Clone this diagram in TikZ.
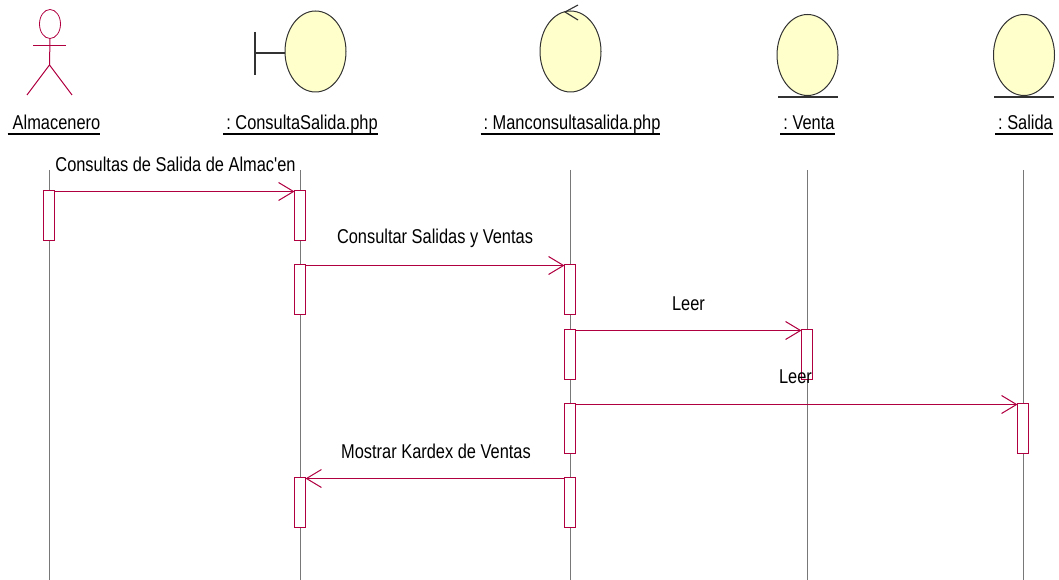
\documentclass[tikz,border=0pt]{standalone}
\usepackage{fontspec}
\setmainfont[FakeStretch=0.82,Ligatures=TeXOff]{Liberation Sans}
\usetikzlibrary{arrows.meta,shapes.geometric}
\definecolor{umlred}{RGB}{176,0,64}
\definecolor{umlfill}{RGB}{255,255,203}
\definecolor{umlline}{RGB}{120,120,120}
\definecolor{umldark}{RGB}{50,50,50}
\newcommand{\headtext}[2]{\kern#1pt\spaceskip=3pt\relax #2}
\tikzset{
  x=1pt,y=-1pt,
  lifeline/.style={draw=umlline,line width=1pt},
  activation/.style={draw=umlred,fill=white,line width=1pt,minimum width=11pt,minimum height=50pt,inner sep=0pt,outer sep=0pt},
  objhead/.style={ellipse,draw=umldark,fill=umlfill,line width=1pt,minimum width=61pt,minimum height=81pt,inner sep=0pt,outer sep=0pt},
  objmark/.style={draw=umldark,line width=1.1pt},
  actorline/.style={draw=umlred,line width=1pt},
  msg/.style={draw=umlred,line width=1pt,-{Straight Barb[length=15pt,width=18pt,line width=1pt]}},
  headlabel/.style={inner sep=0pt,outer sep=0pt,font=\fontsize{20}{22}\selectfont,text height=14pt,text depth=4pt,anchor=center},
  headrule/.style={draw=black,line width=1.1pt},
  msglabel/.style={inner sep=0pt,font=\fontsize{20}{22}\selectfont,anchor=center,text=black},
}
\begin{document}
\begin{tikzpicture}
\useasboundingbox (0,0) rectangle (1059,580);
% lifeline ends
\foreach \n/\x in {a/49.5,b/300.5,c/570.5,d/807.5,e/1023.5}{
  \coordinate (\n top) at (\x,170);
  \coordinate (\n bot) at (\x,580);
  \draw[lifeline] (\n top) -- (\n bot);
}
% actor
\node[ellipse,draw=umlred,line width=0.8pt,fill=white,minimum width=21pt,minimum height=29pt,inner sep=0pt,outer sep=0pt] (head) at (50,24) {};
\coordinate (armL) at (33,45.5);
\coordinate (armR) at (66,45.5);
\coordinate (hip) at (49.5,65);
\coordinate (legL) at (27,95);
\coordinate (legR) at (72,95);
\draw[actorline] (head.south) -- (hip);
\draw[actorline] (armL) -- (armR);
\draw[actorline] (legL) -- (hip) -- (legR);
% boundary
\node[objhead] (bh) at (315.5,51.5) {};
\coordinate (bbarT) at (255,32);
\coordinate (bbarB) at (255,75);
\draw[objmark] (bbarT) -- (bbarB);
\draw[objmark] (255,53) -- (bh.west |- 0,53);
% control
\node[objhead] (ch) at (570.5,51.5) {};
\coordinate (ctip) at (565,12);
\coordinate (cA) at (578,5);
\coordinate (cB) at (578,20);
\draw[objmark] (cA) -- (ctip) -- (cB);
% entities
\node[objhead] (dh) at (807.5,55) {};
\coordinate (dL) at (778,97);
\coordinate (dR) at (838,97);
\draw[objmark] (dL) -- (dR);
\node[objhead] (eh) at (1024,55) {};
\coordinate (eL) at (994,97);
\coordinate (eR) at (1054,97);
\draw[objmark] (eL) -- (eR);
% head labels
\node[headlabel] (al) at (54,125) {\headtext{5}{Almacenero}};
\node[headlabel] (bl) at (300.5,125) {\headtext{3}{: ConsultaSalida.php}};
\node[headlabel] (cl) at (570.5,125) {\headtext{3}{: Manconsultasalida.php}};
\node[headlabel] (dl) at (807.5,125) {\headtext{3}{: Venta}};
\node[headlabel] (el) at (1024,125) {\headtext{3}{: Salida}};
\foreach \n in {al,bl,cl,dl,el}{\draw[headrule] (\n.south west) -- (\n.south east);}
% activations
\node[activation] (a1) at (49,215.5) {};
\node[activation] (b1) at (300,215.5) {};
\node[activation] (b2) at (300,289.5) {};
\node[activation] (c1) at (570,289.5) {};
\node[activation] (c2) at (570,354.5) {};
\node[activation] (d1) at (807,354.5) {};
\node[activation] (c3) at (570,428.5) {};
\node[activation] (e1) at (1023,428.5) {};
\node[activation] (c4) at (570,502.5) {};
\node[activation] (b3) at (300,502.5) {};
% messages
\draw[msg] ([yshift=-1pt]a1.north east) -- ([yshift=-1pt]b1.north west);
\draw[msg] ([yshift=-1pt]b2.north east) -- ([yshift=-1pt]c1.north west);
\draw[msg] ([yshift=-1pt]c2.north east) -- ([yshift=-1pt]d1.north west);
\draw[msg] ([yshift=-1pt]c3.north east) -- ([yshift=-1pt]e1.north west);
\draw[msg] ([yshift=-1pt]c4.north west) -- ([yshift=-1pt]b3.north east);
% message labels
\node[msglabel] (m1) at (175.5,164) {Consultas de Salida de Almac'en};
\node[msglabel] (m2) at (435,238) {Consultar Salidas y Ventas};
\node[msglabel] (m3) at (688.5,304) {Leer};
\node[msglabel] (m4) at (795.5,377) {Leer};
\node[msglabel] (m5) at (436,451) {Mostrar Kardex de Ventas};
\end{tikzpicture}
\end{document}
